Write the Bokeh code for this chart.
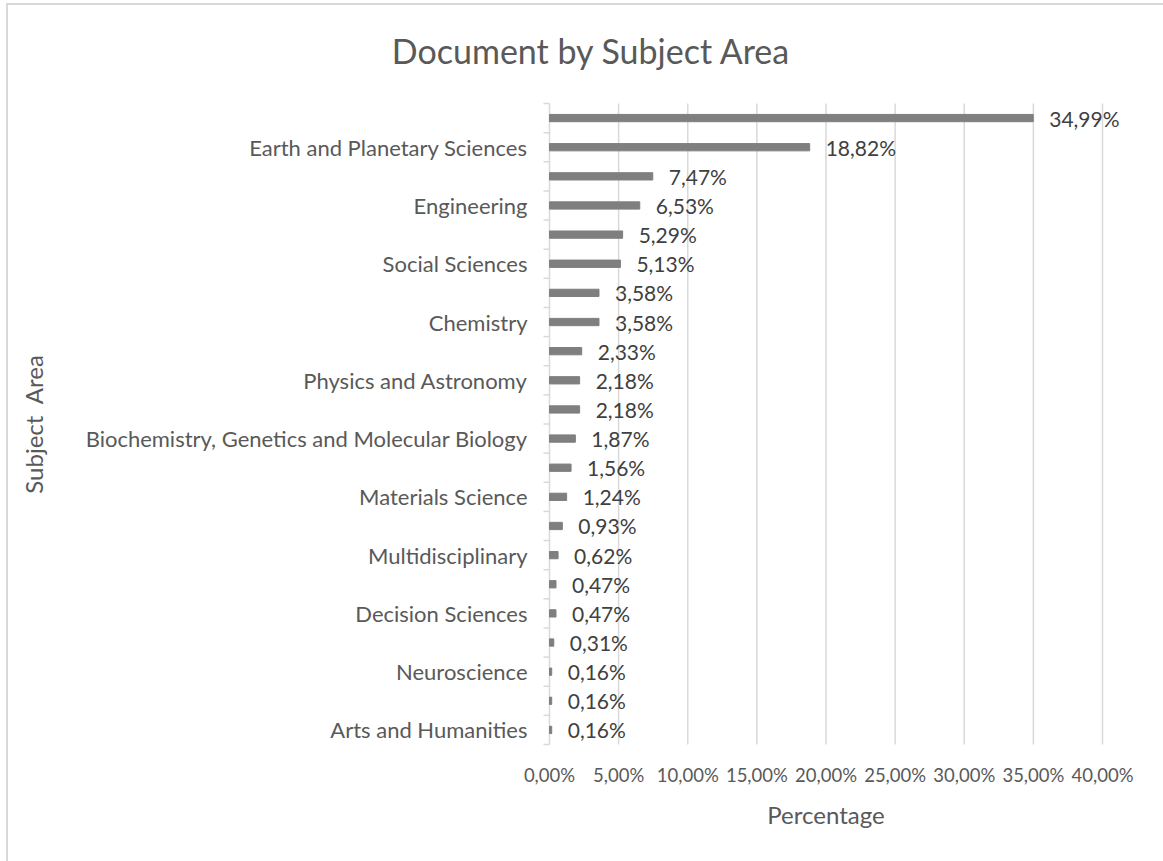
import math
from bokeh.plotting import figure
from bokeh.models import Range1d, ColumnDataSource
from bokeh.core.properties import value
from bokeh.embed import file_html
from bokeh.resources import INLINE

# ---- data (top to bottom) ----
subject_labels = ["", "Earth and Planetary Sciences", "", "Engineering", "", "Social Sciences",
                  "", "Chemistry", "", "Physics and Astronomy", "",
                  "Biochemistry, Genetics and Molecular Biology", "", "Materials Science", "",
                  "Multidisciplinary", "", "Decision Sciences", "", "Neuroscience", "",
                  "Arts and Humanities"]
percentages = [34.99, 18.82, 7.47, 6.53, 5.29, 5.13, 3.58, 3.58, 2.33, 2.18, 2.18,
               1.87, 1.56, 1.24, 0.93, 0.62, 0.47, 0.47, 0.31, 0.16, 0.16, 0.16]
x_ticks = [0, 5, 10, 15, 20, 25, 30, 35, 40]
x_tick_labels = ["0,00%", "5,00%", "10,00%", "15,00%", "20,00%", "25,00%", "30,00%", "35,00%", "40,00%"]
title_text = "Document by Subject Area"
x_title = "Percentage"
y_title = "Subject\u00a0 Area"

n = len(percentages)
ypos = [n - i for i in range(n)]
value_text = [f"{v:.2f}%".replace(".", ",") for v in percentages]

FONT = value("Lato")
GREY_TXT = "#595959"
GRID = "#d9d9d9"

# layout (pixels on the canvas); the plotting area spans 0..40 % horizontally
CANVAS_W, CANVAS_H = 1155, 856
PA_LEFT, PA_RIGHT, PA_TOP, PA_BOTTOM = 541, 1094, 98, 739
XMAX = 40
px_x = (PA_RIGHT - PA_LEFT) / XMAX
px_y = (PA_BOTTOM - PA_TOP) / n
y_lo, y_hi = 0.5, n + 0.5

x_range = Range1d(-PA_LEFT / px_x, (CANVAS_W - PA_LEFT) / px_x)
y_range = Range1d(y_lo - (CANVAS_H - PA_BOTTOM) / px_y, y_hi + PA_TOP / px_y)

p = figure(output_backend="svg", toolbar_location=None,
           frame_width=CANVAS_W, frame_height=CANVAS_H, min_border=0,
           x_range=x_range, y_range=y_range)
p.outline_line_color = None
p.background_fill_color = "white"
p.border_fill_color = "white"
p.xaxis.visible = False
p.yaxis.visible = False
p.grid.visible = False

# vertical gridlines
p.segment(x0=x_ticks, y0=[y_lo] * len(x_ticks), x1=x_ticks, y1=[y_hi] * len(x_ticks),
          line_color=GRID, line_width=1.5)
# category axis line and tick marks at category boundaries
bounds = [k + 0.5 for k in range(n + 1)]
p.segment(x0=[-6 / px_x] * len(bounds), y0=bounds, x1=[0] * len(bounds), y1=bounds,
          line_color=GRID, line_width=1.5)

# bars
src = ColumnDataSource(dict(y=ypos, v=percentages, t=value_text))
p.hbar(y="y", right="v", left=0, height=0.25, source=src, color="#7f7f7f")

# data labels
p.text(x="v", y="y", text="t", source=src, x_offset=16, text_baseline="middle",
       text_font=FONT, text_font_size="21px", text_color="#404040")

# category labels
lab_y = [y for y, l in zip(ypos, subject_labels) if l]
lab_t = [l for l in subject_labels if l]
p.text(x=[0] * len(lab_t), y=lab_y, text=lab_t, x_offset=-22, text_align="right",
       text_baseline="middle", text_font=FONT, text_font_size="22px", text_color=GREY_TXT)

# value-axis tick labels
p.text(x=x_ticks, y=[y_lo - 30 / px_y] * len(x_ticks), text=x_tick_labels,
       text_align="center", text_baseline="middle", text_font=FONT,
       text_font_size="18.5px", text_color=GREY_TXT)

# axis titles and chart title
p.text(x=[XMAX / 2], y=[y_lo - 70 / px_y], text=[x_title], text_align="center",
       text_baseline="middle", text_font=FONT, text_font_size="24px", text_color=GREY_TXT)
p.text(x=[(25 - PA_LEFT) / px_x], y=[(y_lo + y_hi) / 2], text=[y_title], angle=math.pi / 2,
       text_align="center", text_baseline="middle", text_font=FONT,
       text_font_size="24px", text_color=GREY_TXT)
p.text(x=[(583 - PA_LEFT) / px_x], y=[y_hi + 53 / px_y], text=[title_text],
       text_align="center", text_baseline="middle", text_font=FONT,
       text_font_size="34px", text_color=GREY_TXT)

p.styles = {"border-top": "2px solid #d9d9d9", "border-left": "2px solid #d9d9d9",
            "margin-left": "6px", "margin-top": "3px"}

open("out.html", "w").write(file_html(p, INLINE))
